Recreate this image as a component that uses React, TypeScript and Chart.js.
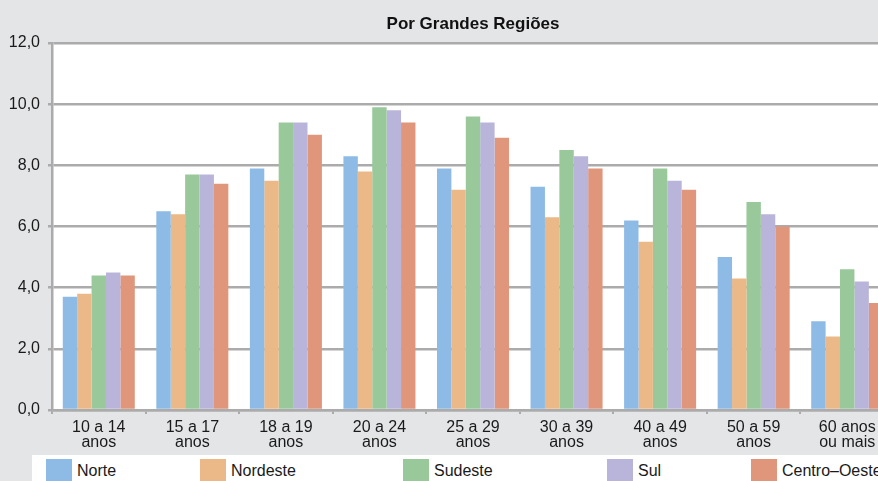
import React, { useEffect, useRef } from "react";
import { Chart, registerables } from "chart.js";

Chart.register(...registerables);

const categories: string[][] = [
  ["10 a 14", "anos"],
  ["15 a 17", "anos"],
  ["18 a 19", "anos"],
  ["20 a 24", "anos"],
  ["25 a 29", "anos"],
  ["30 a 39", "anos"],
  ["40 a 49", "anos"],
  ["50 a 59", "anos"],
  ["60 anos", "ou mais"],
];

const norte = [3.7, 6.5, 7.9, 8.3, 7.9, 7.3, 6.2, 5.0, 2.9];
const nordeste = [3.8, 6.4, 7.5, 7.8, 7.2, 6.3, 5.5, 4.3, 2.4];
const sudeste = [4.4, 7.7, 9.4, 9.9, 9.6, 8.5, 7.9, 6.8, 4.6];
const sul = [4.5, 7.7, 9.4, 9.8, 9.4, 8.3, 7.5, 6.4, 4.2];
const centroOeste = [4.4, 7.4, 9.0, 9.4, 8.9, 7.9, 7.2, 6.0, 3.5];

const seriesNames = ["Norte", "Nordeste", "Sudeste", "Sul", "Centro\u2013Oeste"];
const seriesColors = ["#8dbbe6", "#ebb987", "#99c89b", "#b9b5da", "#df967b"];
const seriesValues = [norte, nordeste, sudeste, sul, centroOeste];

const title = "Por Grandes Regiões";

const FONT = "'Liberation Sans', Arial, sans-serif";
const GRID = "#ababab";
const BG = "#e4e5e7";

const CANVAS_W = 944;
const CANVAS_H = 455;

// horizontal offsets of the legend entries inside the legend strip
const legendOffsets = [14, 168, 371, 575, 719];

// paints the white plot area and the title above it
const plotBackground = {
  id: "plotBackground",
  beforeDraw(chart: any) {
    const { ctx, chartArea } = chart;
    ctx.save();
    ctx.fillStyle = "#ffffff";
    ctx.fillRect(
      chartArea.left,
      chartArea.top,
      chartArea.right - chartArea.left,
      chartArea.bottom - chartArea.top
    );
    ctx.fillStyle = "#111111";
    ctx.font = `bold 17px ${FONT}`;
    ctx.textAlign = "center";
    ctx.textBaseline = "alphabetic";
    ctx.fillText(title, (chartArea.left + chartArea.right) / 2, 29);
    ctx.restore();
  },
};

export default function App() {
  const canvasRef = useRef<HTMLCanvasElement | null>(null);

  useEffect(() => {
    if (!canvasRef.current) return;
    const chart = new Chart(canvasRef.current, {
      type: "bar",
      data: {
        labels: categories,
        datasets: seriesNames.map((name, i) => ({
          label: name,
          data: seriesValues[i],
          backgroundColor: seriesColors[i],
          borderWidth: 0,
          categoryPercentage: 0.77,
          barPercentage: 1,
        })),
      },
      options: {
        animation: false,
        responsive: false,
        devicePixelRatio: 1,
        layout: { padding: { top: 43, right: 50, bottom: 0, left: 0 } },
        plugins: {
          legend: { display: false },
          title: { display: false },
          tooltip: { enabled: false },
        },
        scales: {
          x: {
            offset: true,
            grid: {
              offset: true,
              drawOnChartArea: false,
              drawTicks: true,
              tickLength: 4,
              color: GRID,
              lineWidth: 2,
            },
            border: { display: true, color: GRID, width: 2.5 },
            ticks: {
              color: "#1a1a1a",
              font: { family: FONT, size: 16, lineHeight: 0.96 },
              padding: 6,
              maxRotation: 0,
              autoSkip: false,
            },
            afterFit(scale: any) {
              scale.height = 45;
            },
          },
          y: {
            min: 0,
            max: 12,
            ticks: {
              stepSize: 2,
              color: "#1a1a1a",
              font: { family: FONT, size: 16 },
              padding: 8,
              callback: (v: any) => Number(v).toFixed(1).replace(".", ","),
            },
            grid: {
              color: GRID,
              lineWidth: 2.5,
              drawTicks: true,
              tickLength: 4,
            },
            border: { display: true, color: GRID, width: 2.5 },
            afterFit(scale: any) {
              scale.width = 52;
            },
          },
        },
      },
      plugins: [plotBackground],
    });
    return () => chart.destroy();
  }, []);

  return (
    <div
      style={{
        position: "fixed",
        left: 0,
        top: 0,
        width: 878,
        height: 481,
        overflow: "hidden",
        background: BG,
      }}
    >
      <canvas
        ref={canvasRef}
        width={CANVAS_W}
        height={CANVAS_H}
        style={{ display: "block", width: CANVAS_W, height: CANVAS_H }}
      />
      <div
        style={{
          position: "absolute",
          left: 32,
          top: 455,
          width: 900,
          height: 40,
          background: "#ffffff",
        }}
      >
        {seriesNames.map((name, i) => (
          <div
            key={name}
            style={{
              position: "absolute",
              left: legendOffsets[i],
              top: 4,
              display: "flex",
              alignItems: "center",
              fontFamily: FONT,
              fontSize: 16,
              color: "#1a1a1a",
              whiteSpace: "nowrap",
            }}
          >
            <span
              style={{
                display: "inline-block",
                width: 26,
                height: 24,
                background: seriesColors[i],
                marginRight: 5,
              }}
            />
            <span>{name}</span>
          </div>
        ))}
      </div>
    </div>
  );
}
